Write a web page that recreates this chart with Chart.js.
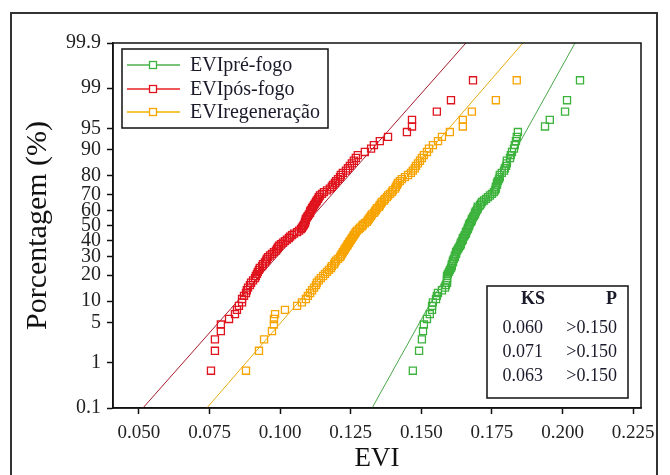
<!DOCTYPE html>
<html>
<head>
<meta charset="utf-8">
<script src="https://cdn.jsdelivr.net/npm/chart.js@4"></script>
<style>
  html, body { margin: 0; padding: 0; background: #fff; }
  #wrap { width: 670px; height: 475px; }
</style>
</head>
<body>
<div id="wrap"><canvas id="chart" width="670" height="475"></canvas></div>
<script>
// probability axis labels (%) and x ticks
const pctTicks = [0.1, 1, 5, 10, 20, 30, 40, 50, 60, 70, 80, 90, 95, 99, 99.9];
const xTicks = [0.050, 0.075, 0.100, 0.125, 0.150, 0.175, 0.200, 0.225];
const xMin = 0.0408;
const xMax = 0.2278;

const seriesNames = ['EVIpré-fogo', 'EVIpós-fogo', 'EVIregeneração'];

// sorted EVI values (100 per series)
const preFogo = [
  0.1470, 0.1492, 0.1502, 0.1506, 0.1509, 0.1520, 0.1530, 0.1538, 0.1538, 0.1541,
  0.1552, 0.1555, 0.1559, 0.1573, 0.1584, 0.1587, 0.1591, 0.1591, 0.1591, 0.1591,
  0.1594, 0.1598, 0.1601, 0.1605, 0.1608, 0.1608, 0.1612, 0.1612, 0.1615, 0.1619,
  0.1619, 0.1623, 0.1623, 0.1626, 0.1630, 0.1633, 0.1637, 0.1640, 0.1640, 0.1644,
  0.1647, 0.1647, 0.1651, 0.1654, 0.1658, 0.1658, 0.1661, 0.1665, 0.1665, 0.1669,
  0.1669, 0.1672, 0.1676, 0.1679, 0.1679, 0.1683, 0.1686, 0.1690, 0.1690, 0.1693,
  0.1697, 0.1700, 0.1700, 0.1708, 0.1711, 0.1715, 0.1722, 0.1729, 0.1736, 0.1743,
  0.1750, 0.1757, 0.1761, 0.1764, 0.1764, 0.1768, 0.1768, 0.1771, 0.1775, 0.1778,
  0.1778, 0.1785, 0.1793, 0.1796, 0.1800, 0.1803, 0.1803, 0.1814, 0.1817, 0.1821,
  0.1828, 0.1831, 0.1835, 0.1838, 0.1842, 0.1938, 0.1955, 0.2009, 0.2016, 0.2062
];
const posFogo = [
  0.0755, 0.0769, 0.0769, 0.0790, 0.0790, 0.0819, 0.0840, 0.0847, 0.0854, 0.0865,
  0.0865, 0.0872, 0.0879, 0.0882, 0.0886, 0.0893, 0.0897, 0.0904, 0.0911, 0.0914,
  0.0918, 0.0921, 0.0925, 0.0928, 0.0936, 0.0939, 0.0946, 0.0950, 0.0953, 0.0957,
  0.0964, 0.0971, 0.0978, 0.0985, 0.0989, 0.0992, 0.0996, 0.1003, 0.1010, 0.1017,
  0.1024, 0.1031, 0.1035, 0.1042, 0.1049, 0.1060, 0.1067, 0.1074, 0.1077, 0.1081,
  0.1084, 0.1088, 0.1088, 0.1091, 0.1091, 0.1095, 0.1098, 0.1102, 0.1106, 0.1106,
  0.1109, 0.1113, 0.1116, 0.1120, 0.1123, 0.1127, 0.1130, 0.1134, 0.1137, 0.1141,
  0.1148, 0.1155, 0.1166, 0.1176, 0.1183, 0.1187, 0.1194, 0.1198, 0.1205, 0.1212,
  0.1215, 0.1222, 0.1233, 0.1240, 0.1247, 0.1254, 0.1261, 0.1268, 0.1275, 0.1300,
  0.1322, 0.1332, 0.1353, 0.1382, 0.1449, 0.1467, 0.1467, 0.1555, 0.1605, 0.1683
];
const regeneracao = [
  0.0879, 0.0925, 0.0943, 0.0971, 0.0978, 0.0978, 0.0982, 0.1017, 0.1060, 0.1077,
  0.1091, 0.1098, 0.1106, 0.1113, 0.1120, 0.1127, 0.1130, 0.1137, 0.1144, 0.1152,
  0.1159, 0.1166, 0.1173, 0.1180, 0.1183, 0.1191, 0.1194, 0.1198, 0.1205, 0.1212,
  0.1215, 0.1219, 0.1222, 0.1226, 0.1229, 0.1233, 0.1237, 0.1240, 0.1244, 0.1247,
  0.1251, 0.1254, 0.1258, 0.1261, 0.1265, 0.1268, 0.1272, 0.1279, 0.1283, 0.1290,
  0.1293, 0.1300, 0.1307, 0.1311, 0.1314, 0.1318, 0.1322, 0.1325, 0.1332, 0.1336,
  0.1339, 0.1343, 0.1350, 0.1353, 0.1357, 0.1360, 0.1368, 0.1371, 0.1378, 0.1382,
  0.1389, 0.1396, 0.1399, 0.1407, 0.1410, 0.1414, 0.1417, 0.1424, 0.1431, 0.1442,
  0.1453, 0.1463, 0.1470, 0.1477, 0.1481, 0.1488, 0.1495, 0.1502, 0.1509, 0.1520,
  0.1527, 0.1541, 0.1559, 0.1573, 0.1601, 0.1647, 0.1647, 0.1679, 0.1764, 0.1838
];

const fitMean = [0.1685, 0.1086, 0.1300];
const fitSd = [0.01163, 0.01851, 0.01811];

const ksValues = ['0.060', '0.071', '0.063'];
const pValues = ['>0.150', '>0.150', '>0.150'];

const markColors = ['#3db33d', '#e0141e', '#f7a400'];
const lineColors = ['#4aa84a', '#a51a2a', '#e8ac10'];
const legendLineColors = ['#4cb04c', '#e82020', '#f0b400'];

// inverse normal CDF (Acklam)
function probit(p) {
  const a = [-3.969683028665376e+01, 2.209460984245205e+02, -2.759285104469687e+02, 1.383577518672690e+02, -3.066479806614716e+01, 2.506628277459239e+00];
  const b = [-5.447609879822406e+01, 1.615858368580409e+02, -1.556989798598866e+02, 6.680131188771972e+01, -1.328068155288572e+01];
  const c = [-7.784894002430293e-03, -3.223964580411365e-01, -2.400758277161838e+00, -2.549732539343734e+00, 4.374664141464968e+00, 2.938163982698783e+00];
  const d = [7.784695709041462e-03, 3.224671290700398e-01, 2.445134137142996e+00, 3.754408661907416e+00];
  const pl = 0.02425;
  if (p < pl) {
    const q = Math.sqrt(-2 * Math.log(p));
    return (((((c[0] * q + c[1]) * q + c[2]) * q + c[3]) * q + c[4]) * q + c[5]) / ((((d[0] * q + d[1]) * q + d[2]) * q + d[3]) * q + 1);
  }
  if (p > 1 - pl) {
    const q = Math.sqrt(-2 * Math.log(1 - p));
    return -(((((c[0] * q + c[1]) * q + c[2]) * q + c[3]) * q + c[4]) * q + c[5]) / ((((d[0] * q + d[1]) * q + d[2]) * q + d[3]) * q + 1);
  }
  const q = p - 0.5, r = q * q;
  return (((((a[0] * r + a[1]) * r + a[2]) * r + a[3]) * r + a[4]) * r + a[5]) * q / (((((b[0] * r + b[1]) * r + b[2]) * r + b[3]) * r + b[4]) * r + 1);
}

const zMin = probit(pctTicks[0] / 100);
const zMax = probit(pctTicks[pctTicks.length - 1] / 100);

// median-rank plotting positions
function toPoints(values) {
  const n = values.length;
  return values.map((v, i) => ({ x: v, y: probit((i + 1 - 0.3) / (n + 0.4)) }));
}

function fitLine(k) {
  return [
    { x: fitMean[k] + zMin * fitSd[k], y: zMin },
    { x: fitMean[k] + zMax * fitSd[k], y: zMax }
  ];
}

const allSeries = [preFogo, posFogo, regeneracao];

const datasets = [];
allSeries.forEach((vals, k) => {
  datasets.push({
    type: 'line',
    label: seriesNames[k] + ' fit',
    data: fitLine(k),
    borderColor: lineColors[k],
    borderWidth: 1,
    pointRadius: 0,
    fill: false,
    order: 2
  });
});
allSeries.forEach((vals, k) => {
  datasets.push({
    type: 'scatter',
    label: seriesNames[k],
    data: toPoints(vals),
    pointStyle: 'rect',
    pointRadius: 5,
    borderColor: markColors[k],
    backgroundColor: 'rgba(0,0,0,0)',
    borderWidth: 1.3,
    order: 1
  });
});

const serif = 'Liberation Serif';

const decorPlugin = {
  id: 'decor',
  afterDraw(chart) {
    const ctx = chart.ctx;
    const a = chart.chartArea;
    ctx.save();

    // plot box
    ctx.strokeStyle = '#111';
    ctx.lineWidth = 1.5;
    ctx.strokeRect(a.left, a.top, a.right - a.left, a.bottom - a.top);

    // outer frame
    ctx.strokeStyle = '#333';
    ctx.lineWidth = 2;
    ctx.beginPath();
    ctx.moveTo(11, 480);
    ctx.lineTo(11, 13);
    ctx.lineTo(657, 13);
    ctx.lineTo(657, 480);
    ctx.stroke();

    // legend
    ctx.fillStyle = '#fff';
    ctx.fillRect(122, 49, 206, 79);
    ctx.strokeStyle = '#111';
    ctx.lineWidth = 1.5;
    ctx.strokeRect(122, 49, 206, 79);
    const rows = [65, 89, 112];
    ctx.font = '20px "' + serif + '"';
    ctx.textBaseline = 'middle';
    ctx.textAlign = 'left';
    seriesNames.forEach((name, k) => {
      const y = rows[k];
      ctx.strokeStyle = legendLineColors[k];
      ctx.lineWidth = 1.5;
      ctx.beginPath();
      ctx.moveTo(127, y);
      ctx.lineTo(180, y);
      ctx.stroke();
      ctx.fillStyle = '#fff';
      ctx.fillRect(149.5, y - 3.5, 7, 7);
      ctx.strokeStyle = markColors[k];
      ctx.lineWidth = 1.3;
      ctx.strokeRect(149.5, y - 3.5, 7, 7);
      ctx.fillStyle = '#1a1a2a';
      ctx.fillText(name, 190, y + 1);
    });

    // KS table
    ctx.fillStyle = '#fff';
    ctx.fillRect(487, 286, 141, 112);
    ctx.strokeStyle = '#111';
    ctx.lineWidth = 1.5;
    ctx.strokeRect(487, 286, 141, 112);
    ctx.fillStyle = '#1a1a2a';
    ctx.textAlign = 'right';
    ctx.font = 'bold 18px "' + serif + '"';
    ctx.fillText('KS', 545, 299);
    ctx.fillText('P', 617, 299);
    ctx.font = '18px "' + serif + '"';
    const tRows = [328, 352, 376];
    ksValues.forEach((ks, k) => {
      ctx.fillText(ks, 543, tRows[k]);
      ctx.fillText(pValues[k], 617, tRows[k]);
    });
    ctx.restore();
  }
};

new Chart(document.getElementById('chart'), {
  type: 'scatter',
  data: { datasets },
  options: {
    responsive: false,
    animation: false,
    layout: { padding: { top: 43, right: 29, left: 0, bottom: 0 } },
    plugins: { legend: { display: false }, tooltip: { enabled: false } },
    scales: {
      x: {
        type: 'linear',
        min: xMin,
        max: xMax,
        afterBuildTicks: scale => { scale.ticks = xTicks.map(v => ({ value: v })); },
        afterFit: scale => { scale.height = 67; },
        ticks: {
          autoSkip: false,
          maxRotation: 0,
          padding: 8,
          color: '#222',
          font: { family: serif, size: 19 },
          callback: v => v.toFixed(3)
        },
        grid: { display: true, drawOnChartArea: false, drawTicks: true, tickLength: 6, tickColor: '#111', tickWidth: 1.5 },
        border: { display: true, color: '#111', width: 1.5 },
        title: { display: true, text: 'EVI', color: '#111', font: { family: serif, size: 27 }, padding: 0 }
      },
      y: {
        type: 'linear',
        min: zMin,
        max: zMax,
        afterBuildTicks: scale => { scale.ticks = pctTicks.map(p => ({ value: probit(p / 100) })); },
        afterFit: scale => { scale.width = 113; },
        ticks: {
          autoSkip: false,
          padding: 6,
          color: '#222',
          font: { family: serif, size: 20 },
          callback: (v, i) => String(pctTicks[i])
        },
        grid: { display: true, drawOnChartArea: false, drawTicks: true, tickLength: 6, tickColor: '#111', tickWidth: 1.5 },
        border: { display: true, color: '#111', width: 1.5 },
        title: { display: true, text: 'Porcentagem (%)', color: '#111', font: { family: serif, size: 30 }, padding: { top: 20, bottom: 0 } }
      }
    }
  },
  plugins: [decorPlugin]
});
</script>
</body>
</html>
